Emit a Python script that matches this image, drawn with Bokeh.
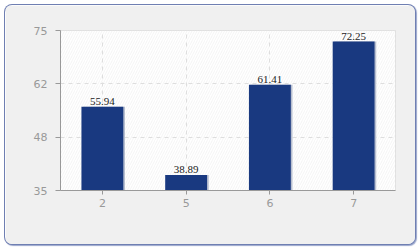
from bokeh.plotting import figure
from bokeh.models import (ColumnDataSource, BoxAnnotation, FixedTicker,
                          PrintfTickFormatter, Range1d)
from bokeh.transform import dodge
from bokeh.embed import file_html
from bokeh.resources import INLINE

categories = ["2", "5", "6", "7"]
values = [55.94, 38.89, 61.41, 72.25]
labels = ["55.94", "38.89", "61.41", "72.25"]
y_min, y_max = 35, 75
y_ticks = [35, 48.333, 61.667, 75]

src = ColumnDataSource(dict(cat=categories, val=values, lab=labels,
                            base=[y_min] * len(values)))

p = figure(width=410, height=239, x_range=categories,
           y_range=Range1d(y_min, y_max), output_backend="svg",
           toolbar_location=None,
           min_border_left=55, min_border_right=20,
           min_border_top=25, min_border_bottom=54)
p.margin = (5, 5, 6, 5)
p.styles = {"border-radius": "7px", "overflow": "hidden",
            "box-shadow": "0 0 0 1px #6f7fb2, 1px 1px 1px 1px #9aa6cc"}
p.border_fill_color = "#f0f0f0"
p.background_fill_color = "white"
p.outline_line_color = "#dddddd"
p.outline_line_width = 1

# plot area with hatch
inner = BoxAnnotation(fill_color="white", line_color=None,
                      hatch_pattern="right_diagonal_line",
                      hatch_color="#efefef", hatch_scale=5, hatch_weight=0.7,
                      level="image")
p.add_layout(inner)

# bar shadow
p.vbar(x=dodge("cat", 0.02, range=p.x_range), top="val", bottom="base",
       width=0.5, source=src, fill_color="#b8bfd0", line_color=None)
p.vbar(x="cat", top="val", bottom="base", width=0.5, source=src,
       fill_color="#193980", line_color=None)

p.text(x="cat", y="val", text="lab", source=src, text_align="center",
       text_baseline="alphabetic", y_offset=-5, text_font_size="11px",
       text_color="#222222", text_font="DejaVu Sans")

p.yaxis.ticker = FixedTicker(ticks=y_ticks)
p.yaxis.formatter = PrintfTickFormatter(format="%.0f")
for ax in (p.xaxis, p.yaxis):
    ax.axis_line_color = "#999999"
    ax.major_tick_line_color = "#999999"
    ax.minor_tick_line_color = None
    ax.major_label_text_color = "#999999"
    ax.major_label_text_font = "DejaVu Sans"
    ax.major_label_text_font_size = "11px"
    ax.major_tick_in = 0
p.yaxis.major_tick_out = 5
p.xaxis.major_tick_out = 4
p.yaxis.major_label_standoff = 8
p.xaxis.major_label_standoff = 4

p.grid.grid_line_color = "#dedede"
p.grid.grid_line_dash = "4 4"
p.grid.grid_line_width = 1
p.x_range.range_padding = 0

open("out.html", "w").write(file_html(p, INLINE))
